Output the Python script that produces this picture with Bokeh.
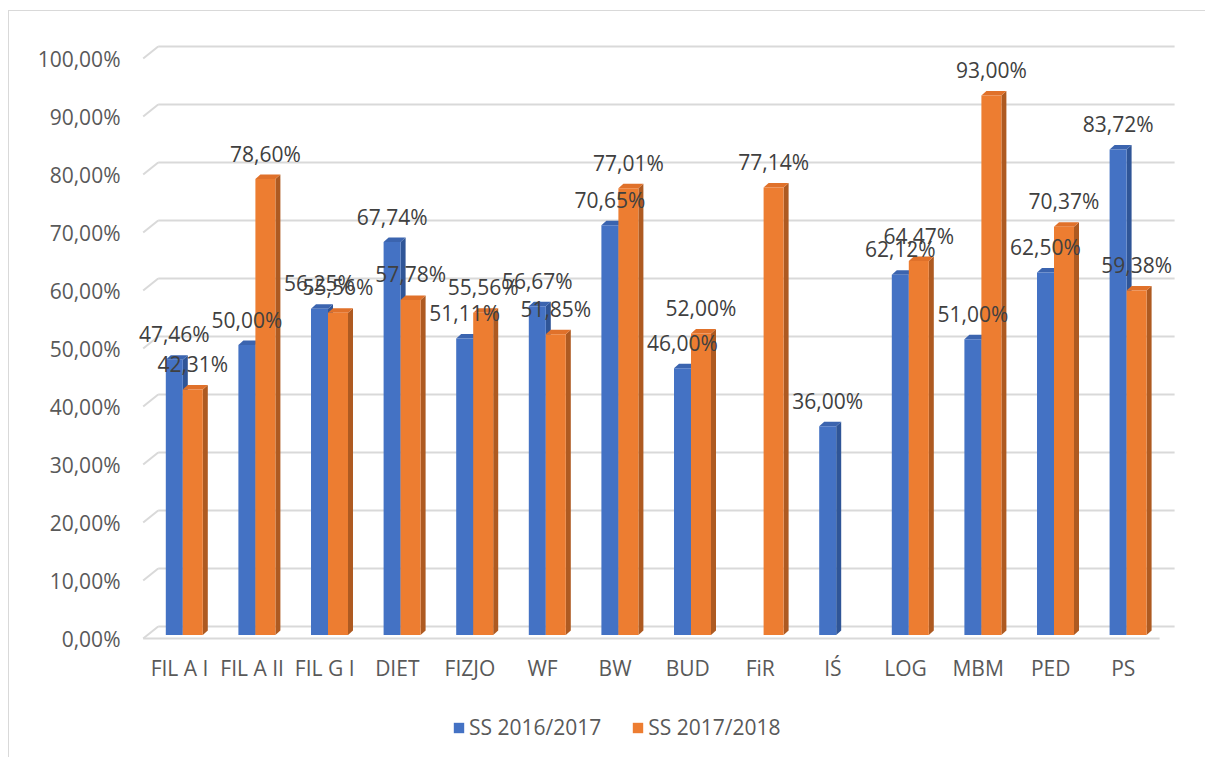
from bokeh.plotting import figure
from bokeh.models import Range1d, FixedTicker, Legend, LegendItem
from bokeh.core.properties import value
from bokeh.embed import file_html
from bokeh.resources import INLINE

# ---------------- data ----------------
categories = ["FIL A I", "FIL A II", "FIL G I", "DIET", "FIZJO", "WF", "BW",
              "BUD", "FiR", "IŚ", "LOG", "MBM", "PED", "PS"]
ss_2016_2017 = [47.46, 50.00, 56.25, 67.74, 51.11, 56.67, 70.65,
                46.00, None, 36.00, 62.12, 51.00, 62.50, 83.72]
ss_2017_2018 = [42.31, 78.60, 55.56, 57.78, 55.56, 51.85, 77.01,
                52.00, 77.14, None, 64.47, 93.00, 70.37, 59.38]
series_names = ["SS 2016/2017", "SS 2017/2018"]
y_ticks = [0, 10, 20, 30, 40, 50, 60, 70, 80, 90, 100]

# ---------------- layout / style ----------------
OX, OY = 9, 11                              # page position of the figure content
W, H = 1197, 747
FRAME_L, FRAME_R, FRAME_T, FRAME_B = 130, 1180, 40, 757   # page px
FL, FR, FT, FB = FRAME_L - OX, OX + W - FRAME_R, FRAME_T - OY, OY + H - FRAME_B
PX_X, PX_Y = 72.6, 5.8                      # px per category / per percent
CAT0_PAGE, ZERO_PAGE = 179.0, 638.0         # page px of first category / 0 line
XLABEL_TOP = 653                            # page px of category label box top
FONT = "Open Sans"
TXT = "#595959"
GRID = "#D9D9D9"
FACE = ["#4472C4", "#ED7D31"]
TOP = ["#3B64AF", "#E0712A"]
SIDE = ["#2F5597", "#AE5A21"]
FS = "21px"

x0 = -(CAT0_PAGE - FRAME_L) / PX_X
x1 = x0 + (FRAME_R - FRAME_L) / PX_X
y0 = -(FRAME_B - ZERO_PAGE) / PX_Y
y1 = y0 + (FRAME_B - FRAME_T) / PX_Y

# depth offsets (data units)
WALL_DX, WALL_DY = 15 / PX_X, 12 / PX_Y     # back wall
BAR_DX, BAR_DY = 3.3 / PX_X, 3.5 / PX_Y     # bar front plane
SIDE_DX, SIDE_DY = 5 / PX_X, 4.5 / PX_Y     # bar depth
BW_ = [17 / PX_X, 20 / PX_X]                # front face widths
LABEL_DY = 25.5 / PX_Y

p = figure(width=W, height=H, output_backend="svg", toolbar_location=None,
           x_range=Range1d(x0, x1), y_range=Range1d(y0, y1),
           min_border_left=FL, min_border_right=FR,
           min_border_top=FT, min_border_bottom=FB)
p.outline_line_color = None
p.xgrid.visible = False
p.ygrid.visible = False
p.background_fill_color = "white"
p.border_fill_color = "white"
p.styles = {"margin-left": "8px", "margin-top": "10px",
            "border-left": "1px solid #D9D9D9", "border-top": "1px solid #D9D9D9"}

# ---------------- gridlines (back wall + left slant) ----------------
n = len(categories)
gx0, gy0, gx1, gy1 = [], [], [], []
for t in y_ticks:
    gx0 += [-0.5, -0.5 + WALL_DX]
    gy0 += [t, t + WALL_DY]
    gx1 += [-0.5 + WALL_DX, n - 0.5 + WALL_DX]
    gy1 += [t + WALL_DY, t + WALL_DY]
gx0.append(-0.5); gy0.append(0); gx1.append(n - 0.5); gy1.append(0)
p.segment(gx0, gy0, gx1, gy1, line_color=GRID, line_width=2)

# ---------------- bars ----------------
renderers = []
lx, ly, lt = [], [], []
for s, vals in enumerate([ss_2016_2017, ss_2017_2018]):
    L, R, B, T = [], [], [], []
    sxs, sys_, txs, tys = [], [], [], []
    for i, v in enumerate(vals):
        if v is None:
            continue
        bnd = i + BAR_DX
        if s == 0:
            l, r = bnd - BW_[0], bnd
        else:
            l, r = bnd, bnd + BW_[1]
        b, t = BAR_DY, v + BAR_DY
        L.append(l); R.append(r); B.append(b); T.append(t)
        sxs.append([r, r + SIDE_DX, r + SIDE_DX, r])
        sys_.append([b, b + SIDE_DY, t + SIDE_DY, t])
        txs.append([l, l + SIDE_DX, r + SIDE_DX, r])
        tys.append([t, t + SIDE_DY, t + SIDE_DY, t])
        lx.append((l + r) / 2)
        ly.append(t + LABEL_DY)
        lt.append(f"{v:.2f}".replace(".", ",") + "%")
    p.patches(sxs, sys_, fill_color=SIDE[s], line_color=None)
    p.patches(txs, tys, fill_color=TOP[s], line_color=None)
    r_ = p.quad(left=L, right=R, bottom=B, top=T, fill_color=FACE[s], line_color=None)
    renderers.append(r_)

# data labels drawn above all bars
p.text(lx, ly, text=lt, text_font=value(FONT), text_font_size=FS,
       text_color="#404040", text_align="center", text_baseline="middle")

# ---------------- axes ----------------
p.xaxis.ticker = FixedTicker(ticks=list(range(n)))
p.xaxis.major_label_overrides = {i: c for i, c in enumerate(categories)}
p.yaxis.ticker = FixedTicker(ticks=y_ticks)
p.yaxis.major_label_overrides = {t: f"{t:.2f}".replace(".", ",") + "%" for t in y_ticks}
for ax in (p.xaxis, p.yaxis):
    ax.axis_line_color = None
    ax.major_tick_line_color = None
    ax.minor_tick_line_color = None
    ax.major_tick_out = 0
    ax.major_tick_in = 0
    ax.major_label_text_font = FONT
    ax.major_label_text_font_size = FS
    ax.major_label_text_color = TXT
p.xaxis.major_label_standoff = XLABEL_TOP - FRAME_B
p.yaxis.major_label_standoff = 10

# ---------------- legend ----------------
legend = Legend(items=[LegendItem(label=series_names[k], renderers=[renderers[k]]) for k in range(2)],
                orientation="horizontal", location=(452 - FRAME_L, FRAME_B - 741),
                glyph_width=13, glyph_height=13, label_standoff=4, spacing=30,
                padding=0, margin=0, border_line_color=None, background_fill_alpha=0,
                label_text_font=FONT, label_text_font_size=FS, label_text_color=TXT)
p.add_layout(legend, "center")

open("out.html", "w").write(file_html(p, INLINE))
